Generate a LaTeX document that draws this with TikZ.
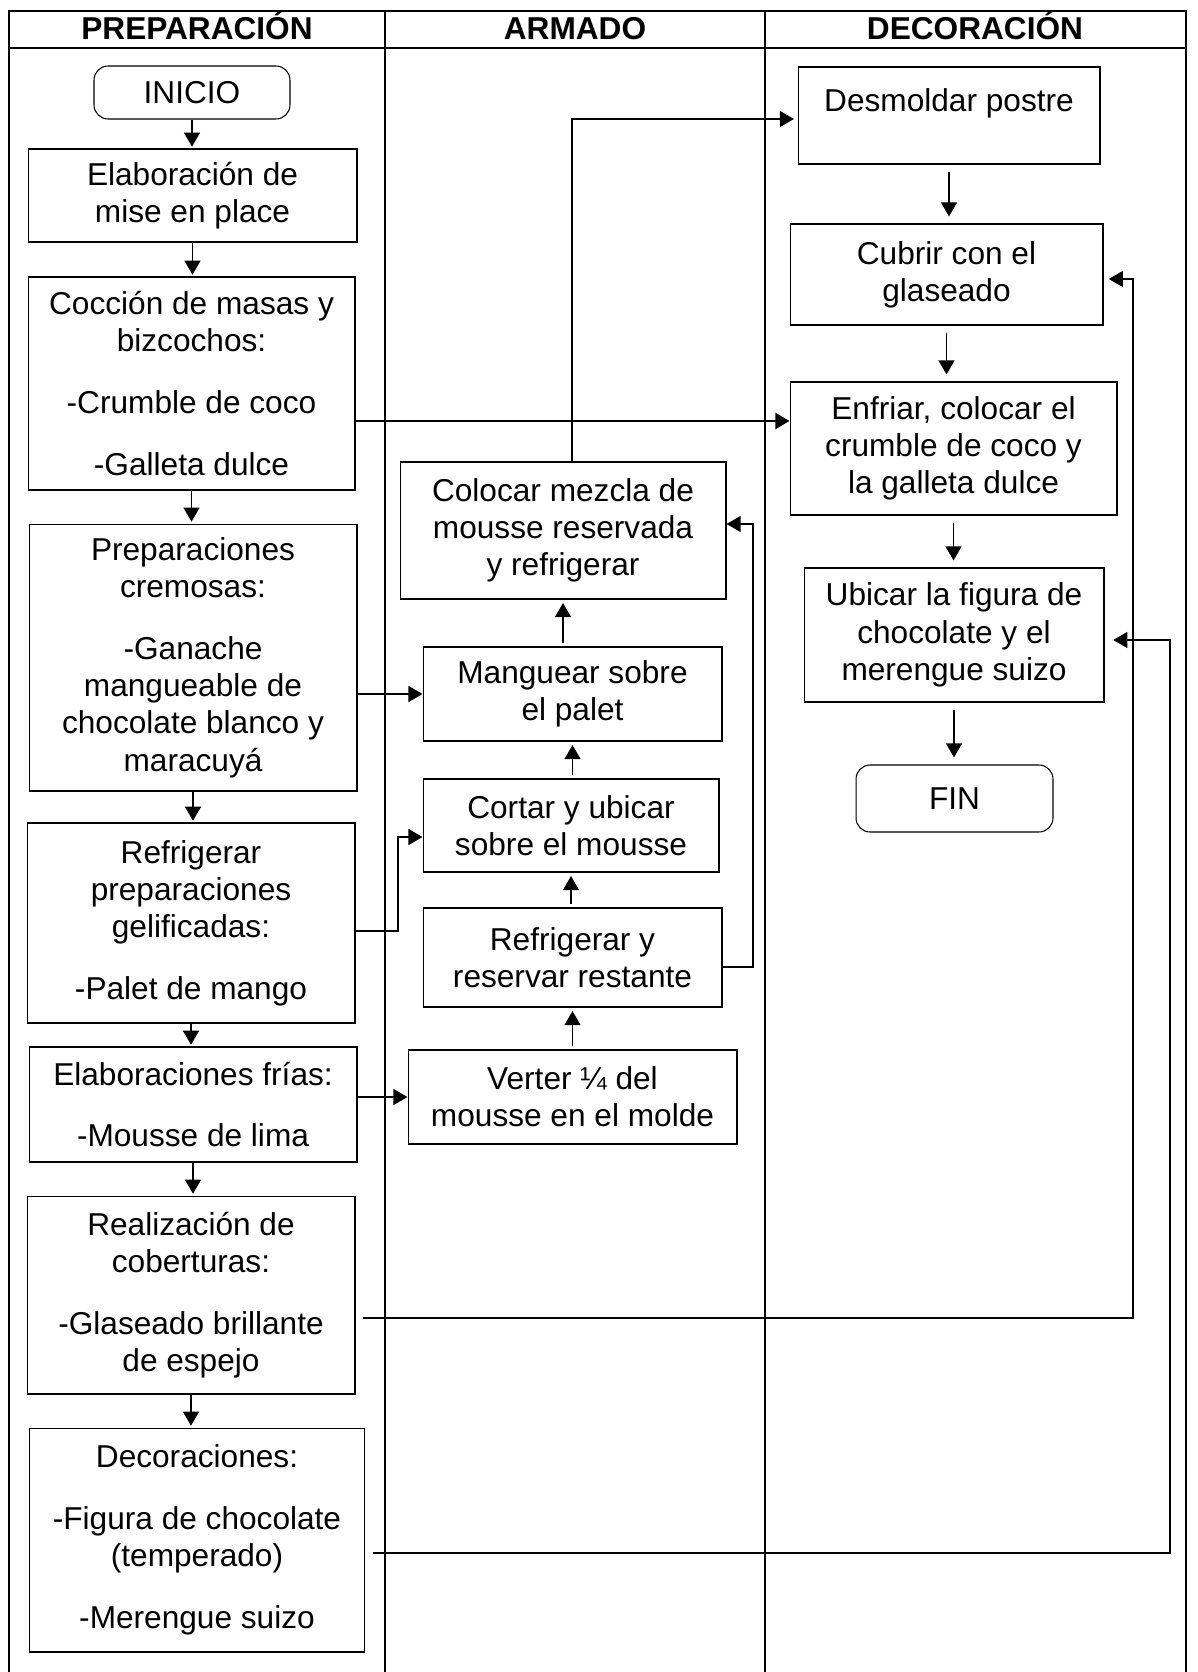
\documentclass[tikz,border=0pt]{standalone}
\usepackage{fontspec}
\setmainfont{Liberation Sans}
\usetikzlibrary{arrows.meta,positioning}

\begin{document}
\begin{tikzpicture}[x=0.02cm, y=-0.02cm,
  every node/.style={font=\fontsize{18}{21.2}\selectfont},
  box/.style={draw, line width=0.6pt, align=center, inner sep=2pt},
  term/.style={box, rounded corners=8pt},
  titulo/.style={anchor=base, font=\fontsize{18}{21}\selectfont\bfseries},
  flecha/.style={-{Triangle[length=8pt,width=9pt]}, line width=1pt},
  lane/.style={line width=1.1pt}]
  \useasboundingbox (0,0) rectangle (1197,1672);

  % Swimlanes
  \draw[lane] (9,1672) -- (9,11) -- (1186,11) -- (1186,1672);
  \draw[lane] (9,48) -- (1186,48);
  \draw[lane] (385,11) -- (385,1672);
  \draw[lane] (765,11) -- (765,1672);
  \node[titulo] (hprep) at (197,40) {PREPARACIÓN};
  \node[titulo] (harm) at (575,40) {ARMADO};
  \node[titulo] (hdeco) at (975,40) {DECORACIÓN};

  % Preparacion
  \node[term, minimum width=3.92cm, minimum height=1.06cm] (inicio) at (192,92.5) {INICIO};
  \node[box, minimum width=6.58cm, minimum height=1.86cm] (mise) at (192.5,195.5) {Elaboración de\\mise en place};
  \node[box, minimum width=6.54cm, minimum height=4.26cm] (cocc) at (191.5,383.5) {Cocción de masas y\\bizcochos:\\[14pt]-Crumble de coco\\[14pt]-Galleta dulce};
  \node[box, minimum width=6.56cm, minimum height=5.34cm] (prep) at (193,657.5) {Preparaciones\\cremosas:\\[14pt]-Ganache\\mangueable de\\chocolate blanco y\\maracuyá};
  \node[box, minimum width=6.56cm, minimum height=4.0cm] (refg) at (191,923) {Refrigerar\\preparaciones\\gelificadas:\\[14pt]-Palet de mango};
  \node[box, minimum width=6.56cm, minimum height=2.3cm] (elab) at (193,1104.5) {Elaboraciones frías:\\[14pt]-Mousse de lima};
  \node[box, minimum width=6.56cm, minimum height=3.96cm] (real) at (191,1295) {Realización de\\coberturas:\\[14pt]-Glaseado brillante\\de espejo};
  \node[box, minimum width=6.72cm, minimum height=4.48cm] (deco) at (197,1540) {Decoraciones:\\[14pt]-Figura de chocolate\\(temperado)\\[14pt]-Merengue suizo};

  % Armado
  \node[box, minimum width=6.52cm, minimum height=2.74cm] (colo) at (563,530.5) {Colocar mezcla de\\mousse reservada\\y refrigerar};
  \node[box, minimum width=5.98cm, minimum height=1.88cm] (mang) at (572.5,694) {Manguear sobre\\el palet};
  \node[box, minimum width=5.92cm, minimum height=1.86cm] (cort) at (571,825.5) {Cortar y ubicar\\sobre el mousse};
  \node[box, minimum width=5.98cm, minimum height=1.98cm] (refr) at (572.5,957.5) {Refrigerar y\\reservar restante};
  \node[box, minimum width=6.58cm, minimum height=1.88cm] (vert) at (572.5,1097) {Verter ¼ del\\mousse en el molde};

  % Decoracion
  \node[box, minimum width=6.04cm, minimum height=1.94cm, text depth=18pt] (desm) at (949,115.5) {Desmoldar postre};
  \node[box, minimum width=6.26cm, minimum height=2.02cm] (cubr) at (946.5,274.5) {Cubrir con el\\glaseado};
  \node[box, minimum width=6.54cm, minimum height=2.66cm] (enfr) at (953.5,448.5) {Enfriar, colocar el\\crumble de coco y\\la galleta dulce};
  \node[box, minimum width=6.0cm, minimum height=2.68cm] (ubic) at (954,635) {Ubicar la figura de\\chocolate y el\\merengue suizo};
  \node[term, minimum width=3.94cm, minimum height=1.34cm] (fin) at (954.5,798.5) {FIN};

  % Flechas de la columna izquierda
  \foreach \a/\b in {inicio/mise, mise/cocc, cocc/prep, prep/refg, refg/elab, elab/real, real/deco}
    \draw[flecha, shorten >=1pt] (\a.south) -- (\a.south |- \b.north);

  % Flechas de armado (hacia arriba)
  \foreach \a/\b in {vert/refr, refr/cort, cort/mang, mang/colo}
    \draw[flecha, shorten <=2pt, shorten >=2pt] (\b.south |- \a.north) -- (\b.south);

  % Flechas de decoracion
  \foreach \a/\b in {desm/cubr, cubr/enfr, enfr/ubic, ubic/fin}
    \draw[flecha, shorten <=4pt, shorten >=4pt] (\a.south) -- (\a.south |- \b.north);

  % Conectores entre carriles
  \coordinate (yc) at (0,421);
  \draw[flecha, line width=1.5pt] (cocc.east |- yc) -- (enfr.west |- yc);

  \coordinate (kd) at (572,119);
  \draw[flecha, shorten >=2pt] (colo.north -| kd) -- (kd) -- (desm.west |- kd);

  \draw[flecha] (prep.east |- mang.west) -- (mang.west);

  \coordinate (kr) at (398,931);
  \coordinate (kc) at (398,837);
  \draw[flecha] (refg.east |- kr) -- (kr) -- (kc) -- (cort.west |- kc);

  \coordinate (kv) at (753,967);
  \coordinate (ku) at (753,524);
  \draw[flecha] (refr.east |- kv) -- (kv) -- (ku) -- (colo.east |- ku);

  \draw[flecha] (elab.east |- vert.west) -- (vert.west);

  \coordinate (ga) at (1133,1318);
  \coordinate (gb) at (1133,279);
  \draw[flecha, shorten <=4pt, shorten >=3pt] (real.east |- ga) -- (ga) -- (gb) -- (cubr.east |- gb);

  \coordinate (fa) at (1170,1553);
  \coordinate (fb) at (1170,640);
  \draw[flecha, shorten <=4pt, shorten >=5pt] (deco.east |- fa) -- (fa) -- (fb) -- (ubic.east |- fb);
\end{tikzpicture}
\end{document}
